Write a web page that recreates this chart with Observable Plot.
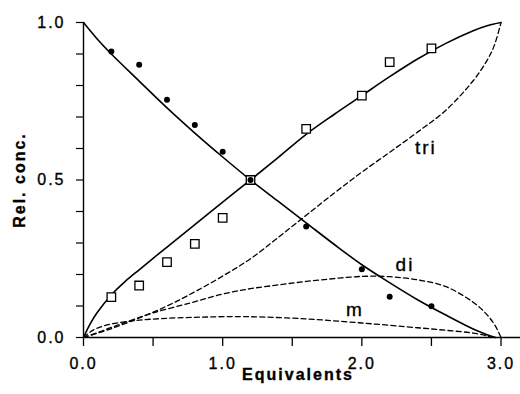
<!DOCTYPE html>
<html><head><meta charset="utf-8">
<script src="https://cdn.jsdelivr.net/npm/d3@7"></script>
<script src="https://cdn.jsdelivr.net/npm/@observablehq/plot@0.6"></script>
<style>body{margin:0;background:#fff} svg{display:block}</style>
</head><body><div id="chart"></div>
<script>
// solid curve: free (decreasing)
const decX = [0,0.1,0.2,0.4,0.6,0.8,1.0,1.2,1.4,1.6,1.8,2.0,2.2,2.4,2.6,2.8,2.9,2.96];
const decY = [1,0.947,0.9,0.814,0.729,0.649,0.573,0.5,0.432,0.364,0.296,0.231,0.174,0.12,0.072,0.027,0.009,0];
// solid curve: bound (increasing)
const incX = [0,0.05,0.1,0.2,0.3,0.4,0.6,0.8,1.0,1.2,1.4,1.6,1.8,2.0,2.2,2.4,2.6,2.8,2.9,3.0];
const incY = [0,0.045,0.08,0.135,0.178,0.215,0.287,0.358,0.43,0.5,0.572,0.645,0.708,0.768,0.828,0.884,0.933,0.974,0.99,1.0];
// dashed: tri
const triX = [0,0.2,0.4,0.6,0.8,1.0,1.2,1.4,1.6,1.8,2.0,2.2,2.4,2.6,2.8,2.9,2.95,3.0];
const triY = [0,0.028,0.062,0.1,0.145,0.195,0.25,0.318,0.388,0.458,0.525,0.588,0.652,0.72,0.815,0.88,0.925,1.0];
// dashed: di
const diX = [0,0.1,0.2,0.3,0.5,0.77,1.0,1.2,1.4,1.6,1.8,2.0,2.2,2.4,2.6,2.8,2.9,2.96,3.0];
const diY = [0,0.015,0.032,0.048,0.078,0.11,0.138,0.155,0.167,0.178,0.187,0.194,0.193,0.183,0.162,0.112,0.072,0.036,0];
// dashed: m
const mX = [0,0.05,0.1,0.2,0.4,0.6,0.8,1.0,1.2,1.6,2.0,2.4,2.6,2.8,2.9,2.93];
const mY = [0,0.018,0.03,0.043,0.055,0.061,0.064,0.066,0.066,0.059,0.046,0.031,0.023,0.014,0.005,0];
// measured points
const dotsX = [0.2,0.4,0.6,0.8,1.0,1.2,1.6,2.0,2.2,2.5];
const dotsY = [0.908,0.866,0.755,0.675,0.59,0.5,0.352,0.217,0.129,0.099];
const sqX = [0.2,0.4,0.6,0.8,1.0,1.2,1.6,2.0,2.2,2.5];
const sqY = [0.128,0.165,0.239,0.297,0.38,0.5,0.662,0.768,0.874,0.918];
// curve labels
const labelText = ["tri","di","m"];
const labelX = [2.46,2.31,1.95];
const labelY = [0.603,0.229,0.089];
// ticks
const xTicks = [0,0.5,1,1.5,2,2.5,3];
const xTickLabels = [0,1,2,3];
const yTicks = [0,0.1,0.2,0.3,0.4,0.5,0.6,0.7,0.8,0.9,1.0];
const yTickLabels = [0,0.5,1];

const pts = (xs, ys) => xs.map((x, i) => ({x, y: ys[i]}));
const FONT = "'Liberation Sans', Arial, Helvetica, sans-serif";
const dash = "5,3.2";

const chart = Plot.plot({
  width: 520, height: 394,
  marginLeft: 83, marginRight: 0, marginTop: 22, marginBottom: 57,
  x: {domain: [0, 3.14]},
  y: {domain: [0, 1]},
  style: {fontFamily: FONT, fontSize: "16px", background: "white", color: "black"},
  marks: [
    Plot.ruleY([0], {strokeWidth: 1.6}),
    Plot.ruleX([0], {strokeWidth: 1.4}),
    Plot.axisX({ticks: xTicks, tickSize: 9, tickPadding: 11, strokeWidth: 1.3,
      tickFormat: d => xTickLabels.includes(d) ? d.toFixed(1) : "", label: null, fontSize: 16}),
    Plot.axisY({ticks: yTicks, tickSize: 7, tickPadding: 11, strokeWidth: 1.2,
      tickFormat: d => yTickLabels.some(v => Math.abs(v - d) < 1e-9) ? d.toFixed(1) : "", label: null, fontSize: 16}),
    Plot.line(pts(triX, triY), {x: "x", y: "y", curve: "catmull-rom", strokeWidth: 1.3, strokeDasharray: dash}),
    Plot.line(pts(diX, diY), {x: "x", y: "y", curve: "catmull-rom", strokeWidth: 1.3, strokeDasharray: dash}),
    Plot.line(pts(mX, mY), {x: "x", y: "y", curve: "catmull-rom", strokeWidth: 1.3, strokeDasharray: dash}),
    Plot.line(pts(decX, decY), {x: "x", y: "y", curve: "catmull-rom", strokeWidth: 1.6}),
    Plot.line(pts(incX, incY), {x: "x", y: "y", curve: "catmull-rom", strokeWidth: 1.6}),
    Plot.dot(pts(sqX, sqY), {x: "x", y: "y", symbol: "square", r: 4.8, stroke: "black", strokeWidth: 1.3, fill: "white"}),
    Plot.dot(pts(dotsX, dotsY), {x: "x", y: "y", r: 3, fill: "black", stroke: "none"}),
    Plot.text(labelText.map((t, i) => ({t, x: labelX[i], y: labelY[i]})), {x: "x", y: "y", text: "t", fontSize: 19, fill: "black"}),
    Plot.text(["Equivalents"], {frameAnchor: "bottom", dy: 42, dx: -4, fontWeight: "bold", fontSize: 16, fill: "black"}),
    Plot.text(["Rel. conc."], {frameAnchor: "left", textAnchor: "middle", lineAnchor: "middle", dx: -64, rotate: -90, fontWeight: "bold", fontSize: 16, fill: "black"})
  ]
});
document.getElementById("chart").appendChild(chart);
const svg = d3.select(chart);
svg.selectAll("text").attr("letter-spacing", "2px").attr("stroke", "black").attr("stroke-width", 0.35);
</script>
</body></html>
